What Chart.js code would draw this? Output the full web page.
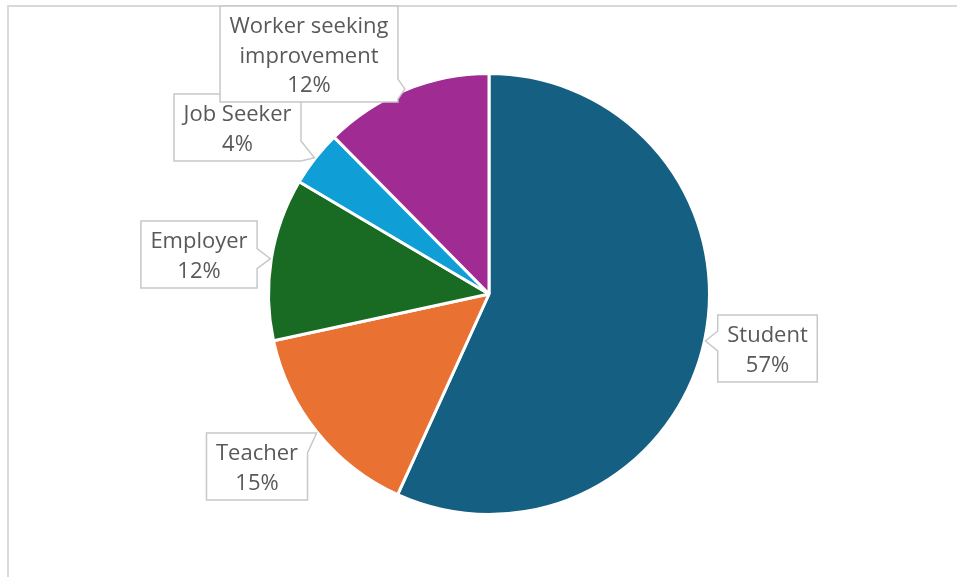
<!DOCTYPE html>
<html>
<head>
<meta charset="utf-8">
<script src="https://cdn.jsdelivr.net/npm/chart.js@4.4.1/dist/chart.umd.min.js"></script>
<style>
  html, body { margin: 0; padding: 0; background: #fff; }
  canvas { display: block; }
</style>
</head>
<body>
<canvas id="chart-pie" width="957" height="577"></canvas>
<script>
const categories = ["Student", "Teacher", "Employer", "Job Seeker", "Worker seeking improvement"];
const shares = [56.8, 14.8, 11.9, 4.1, 12.4];
// label lines as they wrap in the callouts
const labelLines = [["Student"], ["Teacher"], ["Employer"], ["Job Seeker"], ["Worker seeking", "improvement"]];
const sliceColors = ["#156082", "#E97132", "#196B24", "#0F9ED5", "#A02B93"];

// callout box placement (centre x, top y) in canvas pixels
const calloutPos = [
    { cx: 767.5, top: 315 },
    { cx: 257, top: 433 },
    { cx: 199, top: 221 },
    { cx: 237.5, top: 94 },
    { cx: 309, top: 6 }
];

const FONT = "22px 'Open Sans'";
const TEXT_COLOR = "#595959";

const frame = {
    id: "frame",
    beforeDraw(chart) {
        const ctx = chart.ctx;
        ctx.save();
        ctx.strokeStyle = "#d9d9d9";
        ctx.lineWidth = 2;
        ctx.strokeRect(8, 6, 2000, 2000);
        ctx.restore();
    }
};

function calloutPath(ctx, l, t, r, b, tip) {
    const w = 20;
    ctx.beginPath();
    if (tip.x > r) {
        const c = Math.min(Math.max(tip.y, t + w / 2), b - w / 2);
        ctx.moveTo(l, t); ctx.lineTo(r, t);
        ctx.lineTo(r, c - w / 2); ctx.lineTo(tip.x, tip.y); ctx.lineTo(r, c + w / 2);
        ctx.lineTo(r, b); ctx.lineTo(l, b);
    } else if (tip.x < l) {
        const c = Math.min(Math.max(tip.y, t + w / 2), b - w / 2);
        ctx.moveTo(l, t); ctx.lineTo(r, t); ctx.lineTo(r, b); ctx.lineTo(l, b);
        ctx.lineTo(l, c + w / 2); ctx.lineTo(tip.x, tip.y); ctx.lineTo(l, c - w / 2);
    } else if (tip.y < t) {
        const c = Math.min(Math.max(tip.x, l + w / 2), r - w / 2);
        ctx.moveTo(l, t); ctx.lineTo(c - w / 2, t); ctx.lineTo(tip.x, tip.y); ctx.lineTo(c + w / 2, t);
        ctx.lineTo(r, t); ctx.lineTo(r, b); ctx.lineTo(l, b);
    } else {
        const c = Math.min(Math.max(tip.x, l + w / 2), r - w / 2);
        ctx.moveTo(l, t); ctx.lineTo(r, t); ctx.lineTo(r, b);
        ctx.lineTo(c + w / 2, b); ctx.lineTo(tip.x, tip.y); ctx.lineTo(c - w / 2, b);
        ctx.lineTo(l, b);
    }
    ctx.closePath();
}

const callouts = {
    id: "callouts",
    afterDatasetsDraw(chart) {
        const ctx = chart.ctx;
        const meta = chart.getDatasetMeta(0);
        const total = shares.reduce((a, b) => a + b, 0);
        ctx.save();
        ctx.font = FONT;
        meta.data.forEach((arc, i) => {
            const p = arc.getProps(["x", "y", "startAngle", "endAngle", "outerRadius"], true);
            const mid = (p.startAngle + p.endAngle) / 2;
            const tip = { x: p.x + Math.cos(mid) * (p.outerRadius + 1), y: p.y + Math.sin(mid) * (p.outerRadius + 1) };
            const lines = labelLines[i].concat([Math.round(shares[i] / total * 100) + "%"]);
            const textW = Math.max(...lines.map(s => ctx.measureText(s).width));
            const boxW = textW + 19;
            const boxH = 38 + 29 * (lines.length - 1);
            const pos = calloutPos[i];
            const l = pos.cx - boxW / 2, t = pos.top, r = l + boxW, b = t + boxH;
            calloutPath(ctx, l, t, r, b, tip);
            ctx.fillStyle = "#ffffff";
            ctx.fill();
            ctx.strokeStyle = "#c8c8c8";
            ctx.lineWidth = 1.5;
            ctx.stroke();
            ctx.fillStyle = TEXT_COLOR;
            ctx.textAlign = "center";
            ctx.textBaseline = "alphabetic";
            lines.forEach((s, k) => ctx.fillText(s, pos.cx, t + 27 + k * 29.5));
        });
        ctx.restore();
    }
};

new Chart(document.getElementById("chart-pie"), {
    type: "pie",
    data: {
        labels: categories,
        datasets: [{
            data: shares,
            backgroundColor: sliceColors,
            borderColor: "#ffffff",
            borderWidth: 3
        }]
    },
    options: {
        responsive: false,
        animation: false,
        layout: {
            padding: { left: 267, right: 246, top: 72, bottom: 61 }
        },
        plugins: {
            legend: { display: false },
            tooltip: { enabled: false }
        }
    },
    plugins: [frame, callouts]
});
</script>
</body>
</html>
